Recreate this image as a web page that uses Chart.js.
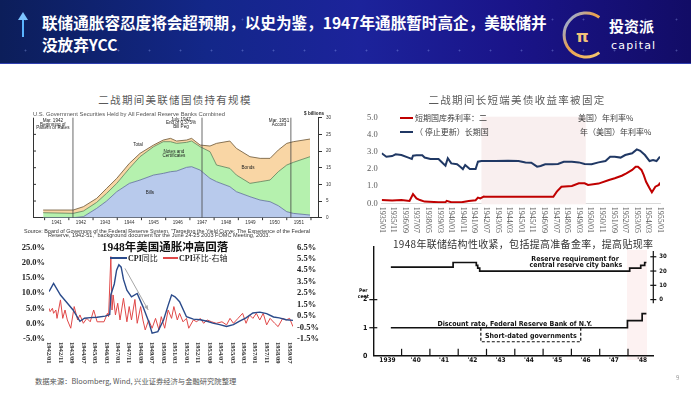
<!DOCTYPE html>
<html lang="zh-CN">
<head>
<meta charset="UTF-8">
<title>联储通胀容忍度将会超预期</title>
<script src="https://cdn.jsdelivr.net/npm/chart.js@4.4.1/dist/chart.umd.min.js"></script>
<style>
html,body{margin:0;padding:0;}
body{width:691px;height:394px;position:relative;overflow:hidden;background:#fff;font-family:"Noto Sans CJK SC",sans-serif;}
.a{position:absolute;white-space:nowrap;}
#top{left:0;top:0;width:691px;height:63px;background:linear-gradient(90deg,#0c1e5a 0%,#132789 30%,#1c239b 52%,#1a1489 74%,#120c66 100%);border-bottom:1px solid #3040b0;}
#dots{left:0;top:0;width:691px;height:63px;background-image:radial-gradient(rgba(160,180,255,.35) 0.7px,transparent 1.2px);background-size:31px 31px;background-position:10px 4px;}
#ttl{left:42px;top:11px;color:#fff;font-weight:700;font-size:15.6px;line-height:22px;}
canvas{position:absolute;}
.ct{font-size:10.5px;letter-spacing:1.3px;color:#595959;text-align:center;line-height:14px;}
.sw{position:absolute;}
.lg{font-size:8px;line-height:10px;color:#404040;}
</style>
</head>
<body>
<div id="top" class="a"></div>
<div id="dots" class="a"></div>
<svg class="a" style="left:16px;top:12px" width="14" height="26">
  <line x1="7" y1="25" x2="7" y2="6" stroke="#5ab4ff" stroke-width="2"/>
  <polygon points="7,0 2,8 12,8" fill="#7cc4ff"/>
</svg>
<div id="ttl" class="a">联储通胀容忍度将会超预期，以史为鉴，1947年通胀暂时高企，美联储并<br>没放弃YCC</div>
<svg class="a" style="left:560px;top:9px" width="110" height="52">
  <defs><linearGradient id="rg" x1="0" y1="0" x2="1" y2="1">
    <stop offset="0" stop-color="#7fb0ff"/><stop offset="0.45" stop-color="#e8a050"/><stop offset="1" stop-color="#f6c870"/></linearGradient></defs>
  <path d="M 39.3 8.4 A 22 22 0 1 0 39.3 43.6" fill="none" stroke="url(#rg)" stroke-width="3"/>
  <text x="16" y="33" fill="#f3c27a" font-size="16" font-weight="700" font-family="DejaVu Sans">π</text>
  <text x="49" y="23" fill="#fff" font-size="15" font-weight="700" font-family="Noto Sans CJK SC">投资派</text>
  <text x="51" y="40" fill="#fff" font-size="11" letter-spacing="1.2" font-family="DejaVu Sans">capital</text>
</svg>

<div class="a" style="left:627px;top:250px;width:20px;height:110px;background:#fdf2f2"></div>

<canvas id="c1" width="320" height="128" style="left:20px;top:110px"></canvas>
<canvas id="c2" width="340" height="130" style="left:345px;top:108px"></canvas>
<canvas id="c3" width="345" height="127" style="left:0px;top:238px"></canvas>
<canvas id="c4" width="340" height="130" style="left:345px;top:236px"></canvas>

<div class="a ct" style="left:75px;top:93px;width:200px">二战期间美联储国债持有规模</div>
<div class="a ct" style="left:417px;top:93px;width:200px">二战期间长短端美债收益率被固定</div>

<div class="sw" style="left:400px;top:117.3px;width:13px;height:2px;background:#c00000"></div>
<div class="a lg" style="left:415px;top:113.3px">短期国库券利率：二</div>
<div class="a lg" style="left:578px;top:113.3px">美国）年利率%</div>
<div class="sw" style="left:400px;top:130.7px;width:13px;height:2px;background:#203864"></div>
<div class="a lg" style="left:415px;top:126.7px">（ 停止更新）长期国</div>
<div class="a lg" style="left:580px;top:126.7px">年（美国）年利率%</div>

<div class="a" style="left:85px;top:240px;width:160px;text-align:center;font-weight:700;font-size:11.5px;line-height:14px;color:#111;font-family:'Liberation Serif','Noto Sans CJK SC',serif">1948年美国通胀冲高回落</div>
<div class="sw" style="left:110px;top:257.3px;width:17px;height:1.5px;background:#2a4a8a"></div>
<div class="a lg" style="left:128px;top:253px;color:#222"><b style="font-family:'Liberation Serif',serif">CPI</b>同比</div>
<div class="sw" style="left:163px;top:257.3px;width:15px;height:1.5px;background:#e04848"></div>
<div class="a lg" style="left:179px;top:253px;color:#222"><b style="font-family:'Liberation Serif',serif">CPI</b>环比-右轴</div>

<div class="a" style="left:393px;top:237px;width:256px;text-align:center;font-size:10px;line-height:14px;color:#333;letter-spacing:0.3px">1948年联储结构性收紧，包括提高准备金率，提高贴现率</div>

<div class="a" style="left:35px;top:375px;font-size:7.3px;line-height:12px;color:#555">数据来源：Bloomberg, Wind, 兴业证券经济与金融研究院整理</div>
<div class="a" style="left:676px;top:373px;font-size:6px;line-height:10px;color:#999">9</div>

<script>
// ---- 图1 数据：美联储持有国债（十亿美元，各层上沿）----
const holdYears  = [1940.94,1942.18,1942.6,1943.15,1943.56,1943.98,1944.5,1944.94,1945.5,1945.9,1946.2,1946.45,1946.86,1947.07,1947.42,1947.83,1948.1,1948.65,1948.92,1949.48,1949.9,1950.31,1950.65,1951.0,1951.27,1951.96];
const billsLine  = [0,0,0.3,2.8,5.0,7.8,10.3,11.3,12.8,13.3,13.8,14.0,15.1,15.3,14.3,11.8,10.8,9.3,7.8,6.3,5.3,4.8,3.6,1.8,1.3,0.8];
const notesLine  = [1.5,1.3,2.0,4.6,7.3,10.3,14.8,18.3,21.3,22.8,22.8,22.3,22.6,23.0,21.3,19.8,15.8,14.8,12.8,10.3,10.8,11.3,13.8,15.8,16.6,18.3];
const totalLine  = [2.3,2.3,3.3,5.8,8.8,11.8,16.3,19.3,21.8,23.3,23.8,23.0,23.3,23.8,21.8,21.5,22.3,23.0,20.8,18.3,17.8,17.8,20.3,22.3,22.8,23.6];
const holdLabelYears = [1941,1942,1943,1944,1945,1946,1947,1948,1949,1950,1951];
const eventYears = [1942.17, 1947.5, 1951.17];

// ---- 图2 数据：月份序号（1935/01 = 0），年利率% ----
const yieldTickLabels = ['1935/01','1935/11','1936/09','1937/07','1938/05','1939/03','1940/01','1940/11','1941/09','1942/07','1943/05','1944/03','1945/01','1945/11','1946/09','1947/07','1948/05','1949/03','1950/01','1950/11','1951/09','1952/07','1953/05','1954/03','1955/01'];
const longMonths = [0,4,9,12,17,23,26,27,30,35,37,42,49,53,55,57,60,65,68,70,72,76,81,83,86,98,109,118,124,129,134,137,141,147,152,157,164,170,175,181,187,193,197,201,206,210,216,220,223,227,231,234,237,240];
const longRate   = [2.92,2.72,2.76,2.86,2.82,2.67,2.59,2.78,2.80,2.80,2.67,2.59,2.59,2.32,2.20,2.63,2.33,2.28,2.12,2.00,2.24,2.00,2.00,2.43,2.47,2.47,2.49,2.47,2.39,2.37,2.14,2.18,2.28,2.28,2.30,2.43,2.43,2.39,2.30,2.28,2.39,2.47,2.72,2.72,2.67,2.82,2.92,3.15,3.07,2.82,2.47,2.53,2.47,2.72];
const shortMonths = [0,9,17,24,27,30,33,37,49,55,56,60,69,75,81,83,85,88,89,148,151,155,164,170,175,178,187,196,201,207,211,216,219,221,224,226,228,231,233,236,239,240];
const shortRate   = [0.19,0.16,0.19,0.14,0.54,0.29,0.19,0.10,0.06,0.06,0.14,0.06,0.06,0.14,0.18,0.33,0.29,0.39,0.38,0.38,0.68,0.97,1.01,1.17,1.17,1.07,1.15,1.36,1.46,1.61,1.75,1.95,2.14,2.14,1.95,1.65,1.26,0.88,0.64,0.97,1.07,1.21];
const pegShade = [86, 176];

// ---- 图3 数据：月份序号（1942/01 = 0），% ----
const cpiTickLabels = ['1942/01','1942/11','1943/09','1944/07','1945/05','1946/03','1947/01','1947/11','1948/09','1949/07','1950/05','1951/03','1952/01','1952/11','1953/09','1954/07','1955/05','1956/03','1957/01','1957/11','1958/09','1959/07'];
const yoyMonths = [0,4,10,15,21,27,31,36,42,49,53,54,57,59,61,63,65,68,72,77,82,87,90,95,100,104,107,110,114,120,126,132,138,143,149,155,161,166,172,178,184,190,196,201,207,213];
const cpiYoy    = [10.5,13.2,9.4,7.2,4.5,0.8,1.8,2.0,2.1,2.5,3.0,9.5,13.0,17.5,19.3,18.5,14.5,11.0,8.8,9.9,5.6,0.7,-3.1,-2.6,1.2,6.0,9.4,8.8,7.2,2.3,1.5,1.3,0.8,0.2,-0.3,-0.9,-0.3,0.8,1.9,3.5,3.8,3.3,2.2,1.9,1.3,1.1];
const momMonths = [0,1,3,4,6,7,10,12,14,16,19,22,25,27,30,33,36,39,42,48,51,52,54,55,56,58,60,62,65,68,70,72,75,77,80,82,84,87,90,93,96,98,101,104,107,109,112,114,117,120,122,126,129,132,135,138,142,146,151,155,158,161,165,169,172,175,178,181,184,187,190,193,197,200,204,207,210,213];
const cpiMom    = [1.18,0.89,1.18,0.74,1.03,0.30,1.91,0.30,1.03,0.16,-0.56,1.33,0.16,0.60,-0.13,0.30,0.0,1.03,0.0,0.0,0.74,0.45,5.69,1.03,2.34,0.60,1.62,0.16,2.05,0.0,1.33,0.16,1.95,-0.13,1.33,0.16,-0.71,0.16,-0.56,0.30,-0.71,0.45,-0.56,1.03,0.30,1.33,0.16,0.74,0.0,0.30,-0.56,0.16,0.0,0.30,-0.13,0.16,0.0,-0.13,0.0,-0.27,0.30,-0.13,0.30,0.74,-0.13,0.60,0.30,0.74,0.16,0.74,-0.27,0.30,-0.13,-0.42,0.30,0.16,0.30,-0.42];
const arrowFrom = [66.3, 18.1];
const arrowTo   = [86.6, 4.5];

// ---- 图4 数据：年份，准备金率%（右轴）、贴现率%（左轴）----
const reserveYears = [1939.62,1941.82,1942.64,1942.69,1942.76,1948.06,1948.45,1948.59,1948.65];
const reserveRate  = [22.75,26,24,22,20,22,24,26,26];
const discountYears = [1939.62,1947.98,1948.5,1948.65];
const discountRate  = [1,1.25,1.5,1.5];
const shortGovYears = [1942.8,1942.8,1946.33,1946.33];
const shortGovRate  = [1,0.5,0.5,1];
const c4YearLabels = ['1939',"'40","'41","'42","'43","'44","'45","'46","'47","'48"];

const pts = (xs, ys) => xs.map((x, i) => ({x, y: ys[i]}));
const base = {responsive:false, animation:false, events:[], devicePixelRatio:1,
  elements:{point:{radius:0}, line:{tension:0}},
  plugins:{legend:{display:false}, tooltip:{enabled:false}}};
function seg(ctx, x1, y1, x2, y2) { ctx.beginPath(); ctx.moveTo(x1, y1); ctx.lineTo(x2, y2); ctx.stroke(); }
// left-aligned text stretched to a given width (the scanned source text is wider than our font)
function fitText(ctx, text, x, y, w) {
  const sx = w / ctx.measureText(text).width;
  ctx.save(); ctx.translate(x, y); ctx.scale(sx, 1); ctx.textAlign = 'left'; ctx.fillText(text, 0, 0); ctx.restore();
}
function vLabels(chart, vals, labels, font, color, gap) {
  const ctx = chart.ctx, xs = chart.scales.x, top = chart.chartArea.bottom + gap;
  ctx.save(); ctx.font = font; ctx.fillStyle = color; ctx.textAlign = 'left'; ctx.textBaseline = 'middle';
  vals.forEach((v, i) => {
    ctx.save(); ctx.translate(xs.getPixelForValue(v), top); ctx.rotate(Math.PI / 2);
    ctx.fillText(labels[i], 0, 0); ctx.restore();
  });
  ctx.restore();
}
const SANS = "'Liberation Sans', Arial, sans-serif";
const NARROW = "'Liberation Sans Narrow', 'DejaVu Sans Condensed', sans-serif";
const SERIF = "'Liberation Serif', 'Times New Roman', serif";

// ================= 图1 =================
const fedMarks = {
  id: 'fedMarks',
  afterDatasetsDraw(chart) {
    const {ctx, chartArea: a, scales: {x, y}} = chart;
    ctx.save();
    ctx.strokeStyle = '#444'; ctx.lineWidth = 0.8;
    eventYears.forEach(v => { const px = x.getPixelForValue(v); seg(ctx, px, a.top, px, a.bottom); });
    ctx.strokeStyle = '#333'; ctx.lineWidth = 1;
    seg(ctx, a.left + 0.5, a.top, a.left + 0.5, a.bottom);
    [5, 10, 15, 20, 25].forEach(v => { const py = y.getPixelForValue(v); seg(ctx, a.left, py, a.left + 3, py); });
    for (let yr = 1941; yr <= 1952; yr++) { const px = x.getPixelForValue(yr); seg(ctx, px, a.bottom, px, a.bottom + 2.5); }
    ctx.fillStyle = '#222'; ctx.textAlign = 'center'; ctx.textBaseline = 'middle';
    ctx.font = '4.6px ' + SANS;
    [['Total',1944.86,21.8],['Notes and',1946.34,19.8],['Certificates',1946.34,18.5],['Bonds',1949.4,14.9],['Bills',1945.35,7.4],
     ['Mar. 1942',1941.34,29],['Beginning of',1941.34,27.95],['Pattern of Rates',1941.34,26.9],
     ['July 1947',1946.63,29.5],['End of 0.375%',1946.63,28.4],['Bill Peg',1946.63,27.4],
     ['Mar. 1951',1950.68,29],['Accord',1950.68,27.95]]
      .forEach(n => ctx.fillText(n[0], x.getPixelForValue(n[1]), y.getPixelForValue(n[2])));
    ctx.fillStyle = '#555'; ctx.font = '5.4px ' + SANS;
    fitText(ctx, 'U.S. Government Securities Held by All Federal Reserve Banks Combined', a.left, a.top - 3.5, 192);
    ctx.textAlign = 'right'; ctx.fillStyle = '#222'; ctx.font = 'bold 4.6px ' + SANS;
    ctx.fillText('$ billions', a.right + 6, a.top - 3.5);
    ctx.fillStyle = '#333'; ctx.font = '5px ' + SANS;
    fitText(ctx, 'Source: Board of Governors of the Federal Reserve System, "Targeting the Yield Curve: The Experience of the Federal', 4, 121.5, 286);
    fitText(ctx, 'Reserve, 1942-51," background document for the June 24-25 2003 FOMC Meeting, 2003.', 28, 126, 222);
    ctx.restore();
  }
};
new Chart(document.getElementById('c1'), {
  type: 'line',
  data: {datasets: [
    {data: pts(holdYears, billsLine), fill: 'origin', backgroundColor: '#b8caec', borderColor: '#5d7096', borderWidth: 0.8},
    {data: pts(holdYears, notesLine), fill: '-1', backgroundColor: '#b5f1ae', borderColor: '#5f7c55', borderWidth: 0.8},
    {data: pts(holdYears, totalLine), fill: '-1', backgroundColor: '#f9d6a5', borderColor: '#7a6546', borderWidth: 0.9}
  ]},
  options: {...base,
    layout: {padding: {left: 13, top: 7.7, right: 0, bottom: 0}},
    scales: {
      x: {type: 'linear', min: 1940.52, max: 1952.29, grid: {display: false, drawTicks: false}, border: {color: '#333'},
          afterBuildTicks: s => { s.ticks = holdLabelYears.map(v => ({value: v + 0.5})); },
          afterFit: s => { s.height = 20.3; },
          ticks: {callback: v => String(Math.floor(v)), font: {size: 4.6, family: SANS}, color: '#333', padding: 2, maxRotation: 0, autoSkip: false}},
      y: {position: 'right', min: 0, max: 30, afterFit: s => { s.width = 22; },
          ticks: {stepSize: 5, autoSkip: false, font: {size: 4.6, family: SANS}, color: '#333', padding: 4},
          grid: {drawOnChartArea: false, tickLength: 4, color: '#333'}, border: {color: '#333'}}
    }},
  plugins: [fedMarks]
});

// ================= 图2 =================
const yieldDeco = {
  id: 'yieldDeco',
  beforeDatasetsDraw(chart) {
    const {ctx, chartArea: a, scales: {x}} = chart;
    ctx.save(); ctx.fillStyle = '#f9efef';
    const x0 = x.getPixelForValue(pegShade[0]), x1 = x.getPixelForValue(pegShade[1]);
    ctx.fillRect(x0, a.top - 1, x1 - x0, a.bottom - a.top + 2);
    ctx.restore();
  },
  afterDraw(chart) {
    vLabels(chart, yieldTickLabels.map((l, i) => i * 10), yieldTickLabels, '8px ' + SERIF, '#595959', 3.5);
  }
};
new Chart(document.getElementById('c2'), {
  type: 'line',
  data: {datasets: [
    {data: pts(shortMonths, shortRate), borderColor: '#c00000', borderWidth: 2},
    {data: pts(longMonths, longRate), borderColor: '#203864', borderWidth: 2}
  ]},
  options: {...base,
    layout: {padding: {left: 0, top: 9.7, right: 25, bottom: 0}},
    scales: {
      x: {type: 'linear', min: 0, max: 240, grid: {display: false, drawTicks: false}, border: {color: '#d9d9d9'},
          ticks: {display: false}, afterFit: s => { s.height = 34.7; }},
      y: {min: 0, max: 5, afterFit: s => { s.width = 36.7; }, grid: {display: false, drawTicks: false}, border: {display: false},
          ticks: {stepSize: 1, autoSkip: false, callback: v => v.toFixed(1), font: {size: 8.5, family: SERIF}, color: '#595959', padding: 4}}
    }},
  plugins: [yieldDeco]
});

// ================= 图3 =================
const cpiDeco = {
  id: 'cpiDeco',
  afterDraw(chart) {
    vLabels(chart, cpiTickLabels.map((l, i) => i * 10), cpiTickLabels, 'bold 6.6px ' + SERIF, '#333', 3);
    const {ctx, scales: {x, y}} = chart;
    const ax = x.getPixelForValue(arrowFrom[0]), ay = y.getPixelForValue(arrowFrom[1]);
    const bx = x.getPixelForValue(arrowTo[0]), by = y.getPixelForValue(arrowTo[1]);
    ctx.save(); ctx.strokeStyle = '#a6a6a6'; ctx.fillStyle = '#a6a6a6'; ctx.lineWidth = 1;
    seg(ctx, ax, ay, bx, by);
    const ang = Math.atan2(by - ay, bx - ax);
    ctx.beginPath(); ctx.moveTo(bx, by);
    ctx.lineTo(bx - 5 * Math.cos(ang - 0.4), by - 5 * Math.sin(ang - 0.4));
    ctx.lineTo(bx - 5 * Math.cos(ang + 0.4), by - 5 * Math.sin(ang + 0.4));
    ctx.closePath(); ctx.fill(); ctx.restore();
  }
};
new Chart(document.getElementById('c3'), {
  type: 'line',
  data: {datasets: [
    {data: pts(yoyMonths, cpiYoy), borderColor: '#2a4a8a', borderWidth: 1.4, yAxisID: 'y'},
    {data: pts(momMonths, cpiMom), borderColor: '#e04848', borderWidth: 1, yAxisID: 'y2'}
  ]},
  options: {...base,
    layout: {padding: {left: 0, top: 9.3, right: 0, bottom: 0}},
    scales: {
      x: {type: 'linear', min: 0, max: 213, grid: {display: false, drawTicks: false}, border: {display: false},
          ticks: {display: false}, afterFit: s => { s.height = 26; }},
      y: {position: 'left', min: -5, max: 25, afterFit: s => { s.width = 49; }, grid: {display: false, drawTicks: false}, border: {display: false},
          ticks: {stepSize: 5, autoSkip: false, callback: v => v.toFixed(1) + '%', font: {size: 8.5, weight: 'bold', family: SERIF}, color: '#222', padding: 4}},
      y2: {position: 'right', min: -1.5, max: 6.5, afterFit: s => { s.width = 52; }, grid: {display: false, drawTicks: false}, border: {display: false},
          ticks: {stepSize: 1, autoSkip: false, callback: v => v.toFixed(1) + '%', font: {size: 8.5, weight: 'bold', family: SERIF}, color: '#222', padding: 4}}
    }},
  plugins: [cpiDeco]
});

// ================= 图4 =================
const fedPolicyDeco = {
  id: 'fedPolicyDeco',
  afterDraw(chart) {
    const {ctx, chartArea: a, scales: {x, y, yr}} = chart;
    ctx.save(); ctx.strokeStyle = '#111'; ctx.lineWidth = 1.2;
    [1, 2].forEach(v => { const py = y.getPixelForValue(v); seg(ctx, a.left - 4, py, a.left + 4, py); });
    for (let yy = 1940; yy <= 1948; yy++) { const px = x.getPixelForValue(yy); seg(ctx, px, a.bottom, px, a.bottom - 7); }
    seg(ctx, a.right, yr.getPixelForValue(-2.5), a.right, yr.getPixelForValue(34));
    [0, 10, 20, 30].forEach(v => { const py = yr.getPixelForValue(v); seg(ctx, a.right - 3, py, a.right + 3, py); });
    ctx.fillStyle = '#111'; ctx.textAlign = 'center'; ctx.textBaseline = 'middle';
    ctx.font = 'bold 7px ' + NARROW;
    [['Reserve requirement for',1946.13,3.44],['central reserve city banks',1946.16,3.21],
     ['Discount rate, Federal Reserve Bank of N.Y.',1944.0,1.12],['Short-dated governments',1944.57,0.70]]
      .forEach(n => ctx.fillText(n[0], x.getPixelForValue(n[1]), y.getPixelForValue(n[2])));
    ctx.font = 'bold 5px ' + NARROW;
    ctx.fillText('Per', a.left - 10, y.getPixelForValue(2.31));
    ctx.fillText('cent', a.left - 10, y.getPixelForValue(2.12));
    ctx.restore();
  }
};
new Chart(document.getElementById('c4'), {
  type: 'line',
  data: {datasets: [
    {data: pts(reserveYears, reserveRate), stepped: true, borderColor: '#111', borderWidth: 1.7, yAxisID: 'yr'},
    {data: pts(discountYears, discountRate), stepped: true, borderColor: '#111', borderWidth: 1.7, yAxisID: 'y'},
    {data: pts(shortGovYears, shortGovRate), borderColor: '#111', borderWidth: 1.2, borderDash: [3, 2], yAxisID: 'y'}
  ]},
  options: {...base,
    layout: {padding: {left: 0, top: 4, right: 0, bottom: 0}},
    scales: {
      x: {type: 'linear', min: 1939, max: 1948.894, grid: {display: false, drawTicks: false}, border: {color: '#111', width: 1.4},
          afterBuildTicks: s => { s.ticks = c4YearLabels.map((l, i) => ({value: 1939.5 + i})); },
          afterFit: s => { s.height = 7.7; },
          ticks: {callback: (v, i) => c4YearLabels[i], font: {size: 6.5, weight: 'bold', family: NARROW}, color: '#111', padding: 0.5, maxRotation: 0, autoSkip: false}},
      y: {position: 'left', min: 0, max: 3.904, afterFit: s => { s.width = 28.3; }, grid: {display: false, drawTicks: false}, border: {color: '#111', width: 1.4},
          afterBuildTicks: s => { s.ticks = [0, 1, 2].map(v => ({value: v})); },
          ticks: {autoSkip: false, font: {size: 7, weight: 'bold', family: NARROW}, color: '#111', padding: 6}},
      yr: {position: 'right', min: -39.37, max: 37.4, afterFit: s => { s.width = 31.7; }, grid: {display: false, drawTicks: false}, border: {display: false},
          afterBuildTicks: s => { s.ticks = [0, 10, 20, 30].map(v => ({value: v})); },
          ticks: {autoSkip: false, font: {size: 6, weight: 'bold', family: NARROW}, color: '#111', padding: 6}}
    }},
  plugins: [fedPolicyDeco]
});
</script>
</body>
</html>
